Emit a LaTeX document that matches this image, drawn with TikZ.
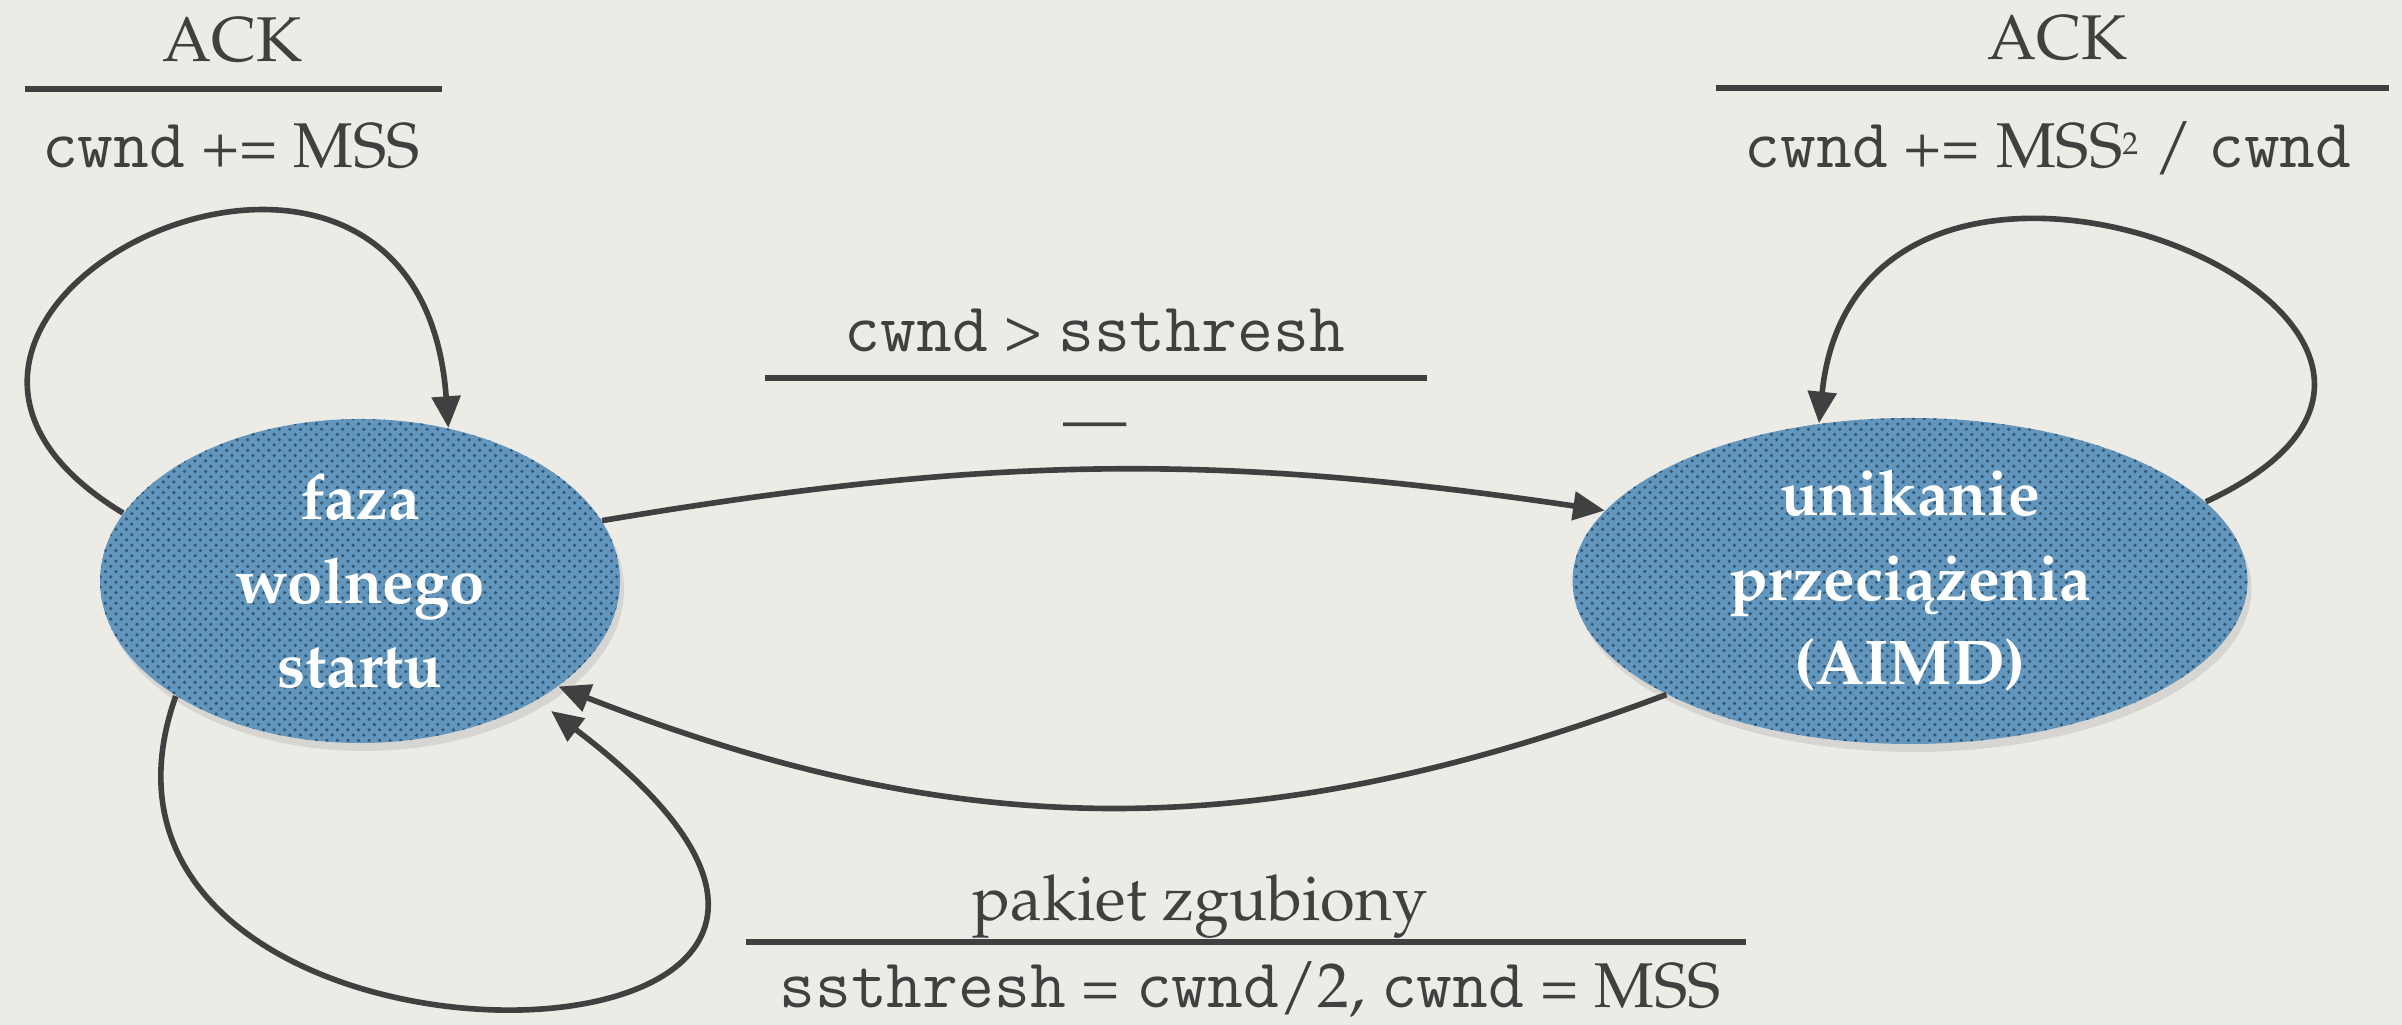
\documentclass[tikz,border=0pt]{standalone}
\usepackage[T1]{fontenc}
\usepackage{mathpazo}
\usepackage{tikz}
\usetikzlibrary{arrows.meta, shapes.geometric, patterns, shadows}

\definecolor{ink}{RGB}{64,64,64}
\definecolor{paper}{RGB}{237,235,230}
\definecolor{stateblue}{RGB}{98,150,188}
\definecolor{statedots}{RGB}{48,86,116}

\newcommand{\code}[1]{{\fontencoding{TU}\fontfamily{lmtt}\fontsize{19.8}{22}\selectfont #1}}
\newcommand{\sqr}{\raisebox{3.7pt}{\fontsize{9}{9}\selectfont 2}}

\tikzset{
  state/.style={ellipse, fill=stateblue, text=white, align=center, inner sep=0pt,
    font=\fontsize{18}{24}\selectfont\bfseries,
    postaction={pattern=crosshatch dots, pattern color=statedots},
    drop shadow={opacity=0.2, shadow xshift=0.4mm, shadow yshift=-0.8mm}},
  trans/.style={draw=ink, line width=1.6pt, -{Triangle[length=9pt,width=8pt]}},
  bar/.style={draw=ink, line width=1.8pt},
  lbl/.style={text=ink, font=\fontsize{18}{22}\selectfont, anchor=base, inner sep=0pt}
}

\begin{document}
\begin{tikzpicture}
  \useasboundingbox[fill=paper] (0,0) rectangle (24.02,10.25);

  % states
  \node[state, minimum width=5.2cm, minimum height=3.24cm] (slow) at (3.60,4.44) {faza\\wolnego\\startu};
  \node[state, minimum width=6.75cm, minimum height=3.26cm] (avoid) at (19.10,4.44) {unikanie\\przeci\k{a}\.{z}enia\\(AIMD)};

  % labels
  \node[lbl] (ackL) at (2.32,9.63) {ACK};
  \draw[bar] (0.25,9.36) -- (4.42,9.36);
  \node[lbl] (incL) at (2.31,8.57) {\code{cwnd} += MSS};

  \node[lbl] (ackR) at (20.57,9.65) {ACK};
  \draw[bar] (17.16,9.37) -- (23.89,9.37);
  \node[lbl] (incR) at (20.48,8.57) {\code{cwnd} += MSS\sqr{} / \code{cwnd}};

  \node[lbl] (guard) at (10.95,6.73) {\code{cwnd} \textgreater{} \code{ssthresh}};
  \draw[bar] (7.65,6.47) -- (14.27,6.47);
  \node[lbl] (noact) at (10.95,5.84) {---};

  \node[lbl] (loss) at (12.00,1.04) {pakiet zgubiony};
  \draw[bar] (7.46,0.83) -- (17.46,0.83);
  \node[lbl] (reset) at (12.50,0.17) {\code{ssthresh} = \code{cwnd}/2, \code{cwnd} = MSS};

  % transitions
  \draw[trans] (slow.164) .. controls +(-3.3,2.0) and +(-0.30,4.2) .. (slow.60);
  \draw[trans] (avoid.15) .. controls +(3.77,1.75) and +(0.41,3.99) .. (avoid.120);
  \draw[trans] (slow.14) to[bend left=9] (avoid.167);
  \draw[trans] (avoid.205) to[bend left=21] (slow.-28);
  \draw[trans, shorten >=5pt] (slow.212) .. controls +(-1.5,-4.22) and +(5.3,-4.0) .. (slow.-34);
\end{tikzpicture}
\end{document}
